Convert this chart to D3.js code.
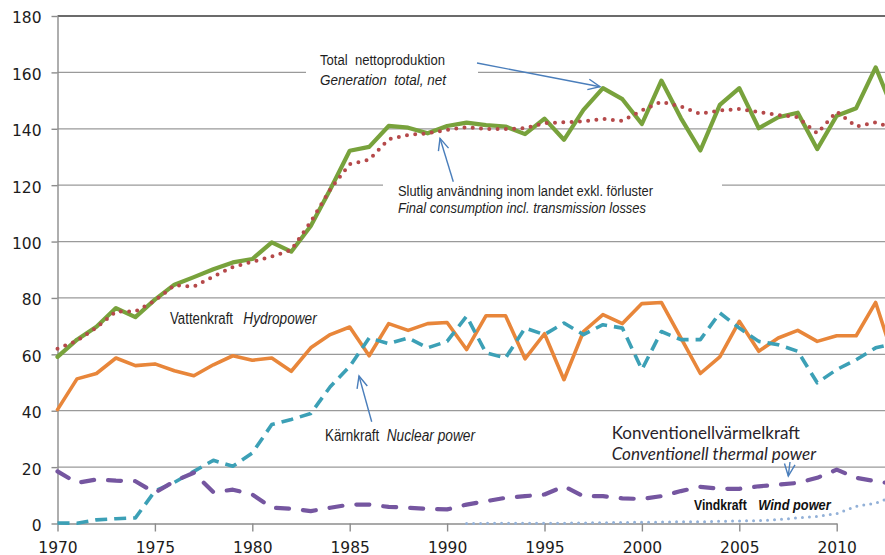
<!DOCTYPE html>
<html><head><meta charset="utf-8">
<script src="https://cdn.jsdelivr.net/npm/d3@7/dist/d3.min.js"></script>
<style>
html,body{margin:0;padding:0;background:#fff;}
svg text{white-space:pre;}
</style></head>
<body><svg id="c" width="885" height="555"></svg>
<script>
const years = d3.range(1970, 2014);
const total = [59.1,65.2,69.8,76.4,73.2,79.4,84.7,87.4,90.2,92.6,93.8,99.7,96.4,105.5,118.5,132.2,133.6,141,140.4,138.4,141,142.2,141.3,140.8,138.1,143.6,136.1,146.7,154.4,150.5,141.7,157.1,143.8,132.3,148.5,154.4,140.2,144.1,145.7,132.8,144.6,147.3,161.8,145];
const consumption = [62,64.8,69.5,75.2,75.2,79,84.5,84,87.6,91,92.8,94.7,97,107,118.5,127.5,129,136.3,137.8,138.4,139.6,140.6,139.9,139.9,140.2,142,142.3,142.6,143.5,142.8,146.5,149.6,147.9,145.3,146.5,147,145.9,144.9,144.1,138.4,146.1,140.8,142.3,140];
const hydro = [40.4,51.3,53.2,58.7,56,56.6,54.2,52.4,56.3,59.5,57.9,58.7,54,62.3,67,69.7,59.5,70.9,68.5,70.9,71.3,61.7,73.7,73.7,58.4,67.3,51,68.1,74.1,70.9,78,78.4,65.8,53.2,59.1,71.7,61.1,65.8,68.5,64.6,66.6,66.6,78.4,57];
const nuclear = [0.2,0.1,1.3,1.7,2,11.5,14.6,18.5,22.4,20.3,25,35.1,36.9,39,48.5,55.7,65.8,63.8,65.8,62.3,64.6,73.5,60.5,58.7,69.3,67,71.1,67,70.5,69.3,54.6,68.1,65.2,65.2,74.7,69.3,64.6,63.4,61.1,49.9,54.6,58.1,62.3,64];
const thermal = [18.5,14.4,15.6,15.2,15,10.9,15,18,11.1,12,10.3,5.6,5.2,4.4,5.6,6.7,6.7,5.9,5.6,5.2,5,6.7,7.9,9.1,9.7,10.3,13.2,9.7,9.7,8.9,8.7,9.7,11.5,13,12.3,12.3,13.2,13.8,14.4,16.2,19.1,16.2,15,14];
const wind = [null,null,null,null,null,null,null,null,null,null,null,null,null,null,null,null,null,null,null,null,null,0,0.05,0.1,0.1,0.1,0.1,0.2,0.3,0.35,0.45,0.5,0.6,0.6,0.8,0.9,1.0,1.4,2.0,2.5,3.5,6.1,7.2,9.8];
const yTicks = d3.range(0, 181, 20);
const xTicks = d3.range(1970, 2011, 5);

const svg = d3.select("#c");
const x = d3.scaleLinear().domain([1970, 2010]).range([57.5, 836.7]);
const y = d3.scaleLinear().domain([0, 180]).range([523.5, 16]);

// gridlines
svg.append("g").selectAll("line").data(yTicks.filter(v => v > 0 && v < 180)).join("line")
  .attr("x1", 57.5).attr("x2", 885).attr("y1", d => y(d)).attr("y2", d => y(d))
  .attr("stroke", "#9a9a9a").attr("stroke-width", 1.2);
svg.append("line").attr("x1", 57.5).attr("x2", 885).attr("y1", y(180)).attr("y2", y(180))
  .attr("stroke", "#3a3a3a").attr("stroke-width", 1.5);

// axes
const ya = svg.append("g").attr("transform", "translate(57.5,0)")
  .call(d3.axisLeft(y).tickValues(yTicks).tickSize(6).tickSizeOuter(0).tickPadding(10));
const xa = svg.append("g").attr("transform", `translate(0,${y(0)})`)
  .call(d3.axisBottom(x).tickValues(xTicks).tickFormat(d3.format("d")).tickSize(8).tickSizeOuter(0).tickPadding(10));
[ya, xa].forEach(a => {
  a.selectAll("path,line").attr("stroke", "#8c8c8c").attr("stroke-width", 1.4);
  a.selectAll("text").attr("fill", "#1c1c1c").style("font-family", "DejaVu Sans, Verdana, sans-serif").style("font-size", "15.5px");
});
ya.selectAll("text").attr("dy", "0.45em");

// series
const line = d3.line().defined(d => d[1] != null).x(d => x(d[0])).y(d => y(d[1]));
const series = [
  {v: hydro, c: "#e8863a", w: 3.6, dash: null, cap: "round"},
  {v: nuclear, c: "#3ca0b6", w: 3.6, dash: "12,7", cap: "butt"},
  {v: thermal, c: "#7556a0", w: 4.2, dash: "13,14", cap: "round"},
  {v: wind, c: "#93b1d8", w: 3, dash: "0,7", cap: "round"},
  {v: total, c: "#78a23c", w: 4.2, dash: null, cap: "round"},
  {v: consumption, c: "#b5494a", w: 4, dash: "0,8.3", cap: "round"}
];
series.forEach(s => {
  svg.append("path").datum(years.map((yr, i) => [yr, s.v[i]]))
    .attr("d", line).attr("fill", "none").attr("stroke", s.c).attr("stroke-width", s.w)
    .attr("stroke-linejoin", "round").attr("stroke-linecap", s.cap)
    .attr("stroke-dasharray", s.dash);
});

// label boxes
svg.append("rect").attr("x", 306).attr("y", 48).attr("width", 172).attr("height", 44).attr("fill", "#fff");
svg.append("rect").attr("x", 383).attr("y", 176).attr("width", 339).attr("height", 42).attr("fill", "#fff");

const narrow = "'Liberation Sans Narrow', 'Arial Narrow', 'Liberation Sans', Arial, sans-serif";
function lab(t, x0, y0, len, size, opts = {}) {
  const e = svg.append("text").attr("x", x0).attr("y", y0).text(t)
    .attr("fill", opts.fill || "#1e1e1e")
    .style("font-family", opts.family || narrow).style("font-size", size + "px")
    .style("font-style", opts.italic ? "italic" : "normal")
    .style("font-weight", opts.bold ? "bold" : "normal")
    .attr("textLength", len).attr("lengthAdjust", "spacingAndGlyphs");
  return e;
}
lab("Total  nettoproduktion", 320, 64.5, 125, 15.5);
lab("Generation  total, net", 320, 84.5, 126, 15.5, {italic: true});
lab("Slutlig användning inom landet exkl. förluster", 398, 196, 255, 14);
lab("Final consumption incl. transmission losses", 398, 213, 248, 14, {italic: true});
lab("Vattenkraft", 170, 324, 63, 16);
lab("Hydropower", 243.3, 324, 73.4, 16, {italic: true});
lab("Kärnkraft", 325, 440.5, 54.3, 16);
lab("Nuclear power", 386.7, 440.5, 88.3, 16, {italic: true});
const cal = "Lato, 'Open Sans', 'DejaVu Sans', sans-serif";
lab("Konventionellvärmelkraft", 611.7, 439.3, 188.3, 16.5, {family: cal, fill: "#2a1f2a"});
lab("Conventionell thermal power", 611.7, 460, 204.3, 16.5, {family: cal, italic: true, fill: "#2a1f2a"});
lab("Vindkraft", 694, 510, 52.7, 15.5, {bold: true, fill: "#111"});
lab("Wind power", 758.3, 510, 72.4, 15.5, {bold: true, italic: true, fill: "#111"});

// arrows
function arrow(x0, y0, x1, y1) {
  const g = svg.append("g").attr("stroke", "#4a7ebb").attr("stroke-width", 1.4).attr("fill", "none");
  g.append("line").attr("x1", x0).attr("y1", y0).attr("x2", x1).attr("y2", y1);
  const a = Math.atan2(y1 - y0, x1 - x0), L = 13, h = 0.42;
  const p1 = [x1 - L * Math.cos(a - h), y1 - L * Math.sin(a - h)];
  const p2 = [x1 - L * Math.cos(a + h), y1 - L * Math.sin(a + h)];
  g.append("path").attr("d", `M${p1[0]},${p1[1]}L${x1},${y1}L${p2[0]},${p2[1]}`);
}
arrow(477, 63, 600, 86.7);
arrow(453.3, 181.7, 440, 138.3);
arrow(371.7, 421.7, 359, 376);
arrow(790, 462, 788.3, 476);
</script></body></html>
